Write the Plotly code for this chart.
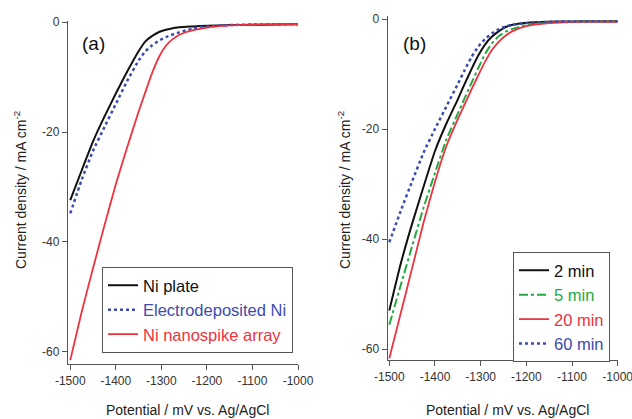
import plotly.graph_objects as go

# ---------------- data ----------------
potential = [-1500, -1475, -1450, -1425, -1400, -1375, -1350, -1335, -1320, -1305,
             -1290, -1275, -1260, -1245, -1230, -1200, -1150, -1100, -1050, -1000]

# panel (a)
ni_plate = [-32.4, -27.0, -21.7, -17.2, -13.0, -9.0, -5.3, -3.5, -2.5, -1.8,
            -1.4, -1.1, -0.95, -0.85, -0.78, -0.68, -0.55, -0.5, -0.45, -0.4]
electrodeposited = [-34.8, -28.7, -23.4, -19.1, -14.9, -10.7, -7.0, -5.3, -4.2, -3.35,
                    -2.75, -2.25, -1.85, -1.5, -1.15, -0.8, -0.55, -0.45, -0.4, -0.4]
nanospike = [-61.5, -52.75, -44.75, -37.0, -29.5, -22.75, -16.3, -12.7, -9.2, -6.3,
             -4.3, -3.1, -2.3, -1.8, -1.45, -1.0, -0.6, -0.45, -0.4, -0.36]

# panel (b)
min2 = [-53.0, -44.5, -37.2, -30.5, -24.0, -19.0, -14.6, -11.8, -9.1, -6.6,
        -4.6, -3.2, -2.2, -1.45, -1.05, -0.7, -0.5, -0.45, -0.4, -0.4]
min5 = [-55.6, -48.4, -41.3, -34.3, -28.0, -21.9, -17.2, -14.4, -11.6, -8.9,
        -6.3, -4.4, -3.1, -2.3, -1.8, -1.1, -0.65, -0.5, -0.45, -0.45]
min20 = [-61.7, -53.5, -45.3, -37.0, -29.6, -23.1, -18.2, -15.5, -12.8, -10.2,
         -7.7, -5.6, -4.1, -3.0, -2.2, -1.3, -0.75, -0.55, -0.5, -0.5]
min60 = [-40.6, -34.9, -29.5, -24.3, -20.0, -15.9, -11.8, -9.3, -6.9, -5.0,
         -3.6, -2.6, -1.85, -1.35, -1.05, -0.75, -0.5, -0.45, -0.4, -0.4]

x_ticks = [-1500, -1400, -1300, -1200, -1100, -1000]
x_ticktext = ["-1500", "-1400", "-1300", "-1200", "-1100", "-1000"]
y_ticks = [0, -20, -40, -60]
y_ticktext = ["0", "-20", "-40", "-60"]

BLACK = "#111111"
BLUE = "#3b4cae"
RED = "#ee3340"
GREEN = "#27a844"
AXIS = "#555555"
FONT = "Liberation Sans, Arial, sans-serif"

W, H = 632, 419


def px_x(p):
    return p / W


def px_y(p):
    return 1 - p / H


fig = go.Figure()


def add(x, y, name, color, dash, width, xa, ya, legend):
    fig.add_trace(go.Scatter(
        x=x, y=y, mode="lines", xaxis=xa, yaxis=ya, legend=legend,
        name=f"<span style='color:{color}'>{name}</span>",
        line=dict(color=color, dash=dash, width=width, shape="spline", smoothing=0.5),
    ))


add(potential, ni_plate, "Ni plate", BLACK, "solid", 2, "x", "y", "legend")
add(potential, electrodeposited, "Electrodeposited Ni", BLUE, "dot", 2.5, "x", "y", "legend")
add(potential, nanospike, "Ni nanospike array", RED, "solid", 1.8, "x", "y", "legend")

add(potential, min2, "2 min", BLACK, "solid", 2, "x2", "y2", "legend2")
add(potential, min5, "5 min", GREEN, "dashdot", 2, "x2", "y2", "legend2")
add(potential, min20, "20 min", RED, "solid", 1.8, "x2", "y2", "legend2")
add(potential, min60, "60 min", BLUE, "dot", 2.5, "x2", "y2", "legend2")

axis_common = dict(
    showline=True, linecolor=AXIS, linewidth=1.3, mirror=False,
    ticks="outside", ticklen=5, tickwidth=1.2, tickcolor=AXIS,
    showgrid=False, zeroline=False, automargin=False,
    ticklabeloverflow="allow",
    tickfont=dict(family=FONT, size=12, color="#333333"),
)

legend_common = dict(
    bgcolor="white", bordercolor=AXIS, borderwidth=1,
    font=dict(family=FONT, size=16.5, color="#111111"),
    xanchor="left", yanchor="top", itemwidth=30, traceorder="normal",
)

fig.update_layout(
    width=W, height=H,
    margin=dict(l=0, r=0, t=0, b=0, autoexpand=False),
    paper_bgcolor="white", plot_bgcolor="white",
    font=dict(family=FONT, color="#111111"),
    xaxis=dict(domain=[px_x(68), px_x(298)], range=[-1505, -1000],
               tickvals=x_ticks, ticktext=x_ticktext, anchor="y", **axis_common),
    yaxis=dict(domain=[px_y(364), px_y(21)], range=[-62.2, 0.2],
               tickvals=y_ticks, ticktext=y_ticktext, anchor="x", **axis_common),
    xaxis2=dict(domain=[px_x(387.7), px_x(617.7)], range=[-1503.5, -1000],
                tickvals=x_ticks, ticktext=x_ticktext, anchor="y2", **axis_common),
    yaxis2=dict(domain=[px_y(360), px_y(15.7)], range=[-62.0, 0.6],
                tickvals=y_ticks, ticktext=y_ticktext, anchor="x2", **axis_common),
    legend=dict(x=px_x(102), y=px_y(267), **legend_common),
    legend2=dict(x=px_x(513), y=px_y(252), **legend_common),
    showlegend=True,
)

ann = []
for xc, label in [(94, "(a)"), (414, "(b)")]:
    ann.append(dict(x=px_x(xc), y=px_y(43), xref="paper", yref="paper",
                    xanchor="center", yanchor="middle",
                    text=label, showarrow=False,
                    font=dict(family=FONT, size=19, color="#111111")))
for xc in [188, 508]:
    ann.append(dict(x=px_x(xc), y=px_y(410), xref="paper", yref="paper",
                    xanchor="center", yanchor="middle",
                    text="Potential / mV vs. Ag/AgCl", showarrow=False,
                    font=dict(family=FONT, size=14, color="#222222")))
for xc in [20, 344]:
    ann.append(dict(x=px_x(xc), y=px_y(190), xref="paper", yref="paper",
                    xanchor="center", yanchor="middle",
                    text="Current density / mA cm<sup>-2</sup>", showarrow=False,
                    textangle=-90,
                    font=dict(family=FONT, size=14, color="#222222")))
fig.update_layout(annotations=ann)

fig.write_html(
    "out.html",
    config={"displayModeBar": False},
    post_script="document.body.style.margin='0';document.body.style.overflow='hidden';",
)
